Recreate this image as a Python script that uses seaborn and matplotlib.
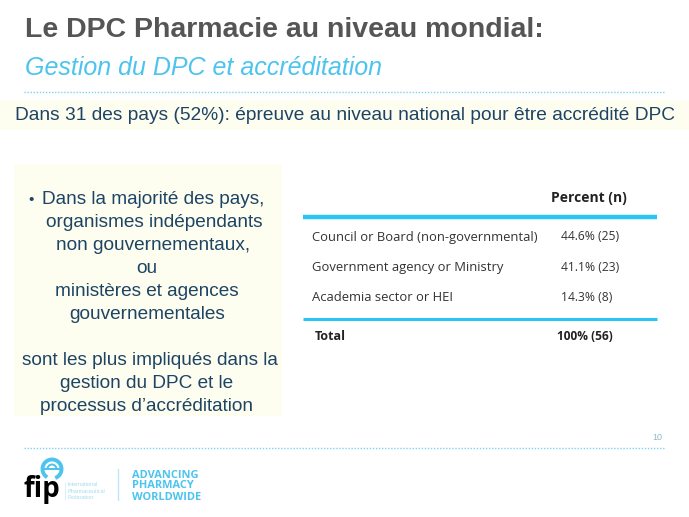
import matplotlib
matplotlib.use("Agg")
import matplotlib.pyplot as plt
from matplotlib.patches import Rectangle, Arc
import seaborn as sns

TITLE = "Le DPC Pharmacie au niveau mondial:"
SUBTITLE = "Gestion du DPC et accréditation"
BANNER = "Dans 31 des pays (52%): épreuve au niveau national pour être accrédité DPC"
BOX_LINES = ["Dans la majorité des pays,", "organismes indépendants", "non gouvernementaux,",
             "ou", "ministères et agences", "gouvernementales", "",
             "sont les plus impliqués dans la", "gestion du DPC et le", "processus d’accréditation"]
BOX_X = [153, 154, 153, 147, 147, 147, 0, 150, 147, 147]
ROW_LABELS = ["Council or Board (non-governmental)", "Government agency or Ministry", "Academia sector or HEI"]
PERCENTS = [44.6, 41.1, 14.3]
COUNTS = [25, 23, 8]
TOTAL_COUNT = 56
PAGE = "10"

NAVY = "#1d4464"
BLUE = "#4cc4ee"
RULE = "#29c3f5"
CREAM = "#fefef0"

sns.set_theme(style="white")
plt.rcParams["font.family"] = ["Liberation Sans", "DejaVu Sans"]

fig = plt.figure(figsize=(6.89, 5.17), dpi=100)
ax = fig.add_axes([0, 0, 1, 1])
ax.set_xlim(0, 689)
ax.set_ylim(517, 0)
ax.set_axis_off()
sns.despine(ax=ax, left=True, bottom=True)

# header
ax.text(25, 30, TITLE, fontsize=20.5, fontweight="bold", color="#555555", va="center")
ax.text(25, 68, SUBTITLE, fontsize=18, style="italic", color=BLUE, va="center")
for y in [92, 448]:
    ax.plot([24, 664], [y, y], color="#7fd3ee", lw=1, ls=(0, (1, 1.2)))

# banner and text box
ax.add_patch(Rectangle((0, 100), 689, 30, color=CREAM, lw=0))
ax.text(345, 116, BANNER, fontsize=13.75, color=NAVY, ha="center", va="center")
ax.add_patch(Rectangle((14, 164), 268, 252, color=CREAM, lw=0))
ax.text(31, 200, "•", fontsize=11, color=NAVY, ha="center", va="center")
for i, (line, x) in enumerate(zip(BOX_LINES, BOX_X)):
    ax.text(x, 200 + i * 22.9, line, fontsize=13.7, color=NAVY, ha="center", va="center")

# table
TABLE_FONT = ["Open Sans", "DejaVu Sans"]
ax.text(589, 198, "Percent (n)", fontsize=10, fontweight="bold", color="#222222",
        ha="center", va="center", family=TABLE_FONT)
ax.plot([303, 657], [217, 217], color=RULE, lw=3.2, solid_capstyle="butt")
ax.plot([303, 657], [318.5, 318.5], color=RULE, lw=2.2, solid_capstyle="butt")
for i, (label, pct, n) in enumerate(zip(ROW_LABELS, PERCENTS, COUNTS)):
    y = 237 + i * 30.3
    ax.text(312, y, label, fontsize=9.35, color="#333333", va="center", family=TABLE_FONT)
    ax.text(561, y, f"{pct}% ({n})", fontsize=8.7, color="#333333", va="center", family=TABLE_FONT)
ax.text(315, 336, "Total", fontsize=9, fontweight="bold", color="#222222", va="center", family=TABLE_FONT)
ax.text(557, 336, f"100% ({TOTAL_COUNT})", fontsize=8.6, fontweight="bold", color="#222222",
        va="center", family=TABLE_FONT)

ax.text(657, 437, PAGE, fontsize=6.5, color="#8fb7c9", ha="center", va="center")

# logo
ax.text(23, 490, "fip", fontsize=20, fontweight="bold", color="black", va="center", family=TABLE_FONT)
ax.add_patch(Arc((52, 469), 19, 19, theta1=120, theta2=70, color=BLUE, lw=2.8))
ax.add_patch(Arc((52, 469), 9, 9, theta1=180, theta2=360, color=BLUE, lw=1.4))
ax.add_patch(Rectangle((43, 468), 18, 2.2, color=BLUE, lw=0))
for i, word in enumerate(["International", "Pharmaceutical", "Federation"]):
    ax.text(68, 485 + i * 6.4, word, fontsize=4, color="#a5dcf2", va="center")
ax.plot([65, 65], [482, 500], color="#d5eef8", lw=0.6)
ax.plot([118, 118], [469, 500], color="#bfe6f5", lw=1)
for i, word in enumerate(["ADVANCING", "PHARMACY", "WORLDWIDE"]):
    ax.text(132, 475 + i * 11, word, fontsize=7.9, fontweight="bold", color=BLUE, va="center",
            family=TABLE_FONT)

fig.savefig("out.png", dpi=100)
plt.close(fig)
